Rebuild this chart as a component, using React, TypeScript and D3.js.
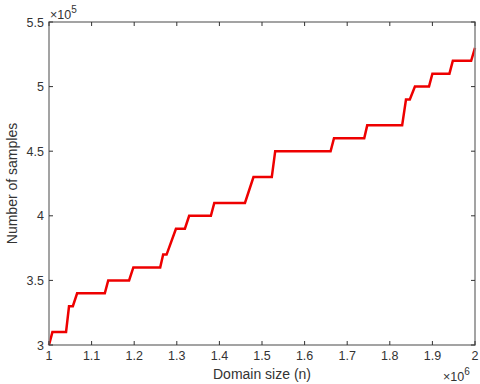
import * as d3 from 'd3';
import React, { useEffect, useRef } from "react";

// domain size (x 1e6) at each corner of the step curve
const domainSize = [
    1.000, 1.008, 1.040, 1.047, 1.056, 1.066, 1.131, 1.139, 1.188, 1.198,
    1.261, 1.268, 1.276, 1.298, 1.319, 1.329, 1.380, 1.388, 1.460, 1.480,
    1.523, 1.531, 1.661, 1.669, 1.740, 1.747, 1.829, 1.838, 1.847, 1.859,
    1.892, 1.900, 1.940, 1.948, 1.991, 2.000,
];
// number of samples (x 1e5)
const samples = [
    3.0, 3.1, 3.1, 3.3, 3.3, 3.4, 3.4, 3.5, 3.5, 3.6,
    3.6, 3.7, 3.7, 3.9, 3.9, 4.0, 4.0, 4.1, 4.1, 4.3,
    4.3, 4.5, 4.5, 4.6, 4.6, 4.7, 4.7, 4.9, 4.9, 5.0,
    5.0, 5.1, 5.1, 5.2, 5.2, 5.3,
];
const xTicks = [1, 1.1, 1.2, 1.3, 1.4, 1.5, 1.6, 1.7, 1.8, 1.9, 2];
const yTicks = [3, 3.5, 4, 4.5, 5, 5.5];

const App: React.FC = () => {
    const ref = useRef<SVGSVGElement>(null);

    useEffect(() => {
        if (!ref.current) return;
        const width = 480;
        const height = 384;
        const left = 49, right = 475, top = 22, bottom = 345;
        const axisColor = '#858585';
        const textColor = '#333333';
        const font = '"Liberation Sans", Arial, sans-serif';

        const svg = d3.select(ref.current)
            .attr('width', width)
            .attr('height', height);
        svg.selectAll('*').remove();

        const x = d3.scaleLinear().domain([1, 2]).range([left, right]);
        const y = d3.scaleLinear().domain([3, 5.5]).range([bottom, top]);

        const line = d3.line<number>()
            .x((_, i) => x(domainSize[i]))
            .y(d => y(d));

        svg.append('path')
            .datum(samples)
            .attr('d', line)
            .attr('fill', 'none')
            .attr('stroke', '#ee0000')
            .attr('stroke-width', 2.5)
            .attr('stroke-linejoin', 'miter');

        // box
        svg.append('rect')
            .attr('x', left).attr('y', top)
            .attr('width', right - left).attr('height', bottom - top)
            .attr('fill', 'none')
            .attr('stroke', axisColor)
            .attr('stroke-width', 1.5);

        const tickLen = 4;
        const xt = svg.append('g');
        xTicks.forEach(t => {
            xt.append('line').attr('x1', x(t)).attr('x2', x(t))
                .attr('y1', bottom).attr('y2', bottom - tickLen)
                .attr('stroke', textColor);
            xt.append('line').attr('x1', x(t)).attr('x2', x(t))
                .attr('y1', top).attr('y2', top + tickLen)
                .attr('stroke', textColor);
            xt.append('text')
                .attr('x', x(t)).attr('y', bottom + 15)
                .attr('text-anchor', 'middle')
                .attr('font-size', 12.5)
                .attr('font-family', font)
                .attr('fill', textColor)
                .text(d3.format('')(t));
        });

        const yt = svg.append('g');
        yTicks.forEach(t => {
            yt.append('line').attr('x1', left).attr('x2', left + tickLen)
                .attr('y1', y(t)).attr('y2', y(t))
                .attr('stroke', textColor);
            yt.append('line').attr('x1', right).attr('x2', right - tickLen)
                .attr('y1', y(t)).attr('y2', y(t))
                .attr('stroke', textColor);
            yt.append('text')
                .attr('x', left - 5).attr('y', y(t))
                .attr('dy', '0.36em')
                .attr('text-anchor', 'end')
                .attr('font-size', 12.5)
                .attr('font-family', font)
                .attr('fill', textColor)
                .text(d3.format('')(t));
        });

        // exponent labels
        const expY = svg.append('text')
            .attr('x', left + 1).attr('y', top - 3)
            .attr('font-family', font)
            .attr('fill', textColor)
            .attr('font-size', 12.5);
        expY.append('tspan').text('×10');
        expY.append('tspan').attr('font-size', 10).attr('dy', -6).text('5');

        const expX = svg.append('text')
            .attr('x', right - 32).attr('y', bottom + 36)
            .attr('font-family', font)
            .attr('fill', textColor)
            .attr('font-size', 12.5);
        expX.append('tspan').text('×10');
        expX.append('tspan').attr('font-size', 10).attr('dy', -6).text('6');

        svg.append('text')
            .attr('x', (left + right) / 2).attr('y', bottom + 34)
            .attr('text-anchor', 'middle')
            .attr('font-size', 14)
            .attr('font-family', font)
            .attr('fill', textColor)
            .text('Domain size (n)');

        svg.append('text')
            .attr('transform', `translate(17, ${(top + bottom) / 2}) rotate(-90)`)
            .attr('text-anchor', 'middle')
            .attr('font-size', 14)
            .attr('font-family', font)
            .attr('fill', textColor)
            .text('Number of samples');
    }, []);

    return (
        <svg ref={ref} style={{ position: 'fixed', left: 0, top: 0, background: '#fff' }}></svg>
    );
};

export default App;
